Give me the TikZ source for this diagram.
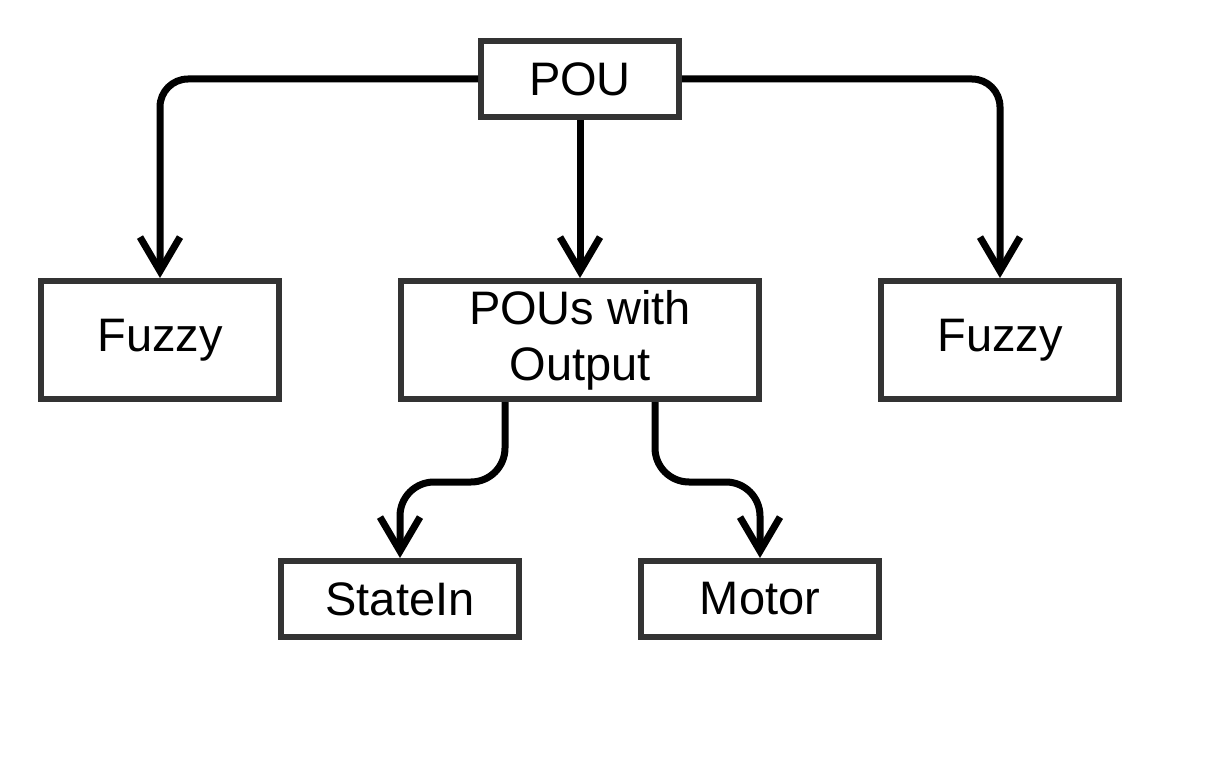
\documentclass[tikz,border=0pt]{standalone}
\usepackage{fontspec}
\setmainfont{Liberation Sans}
\usetikzlibrary{arrows.meta}
\definecolor{boxgray}{HTML}{333333}
\tikzset{
  box/.style={draw=boxgray, line width=6pt, fill=white, inner sep=0pt,
    font=\fontsize{47}{56}\selectfont, align=center, text=black},
  conn/.style={draw=black, line width=7pt, rounded corners=28pt,
    -{Straight Barb[length=34pt, width=40pt, line width=7pt]}}
}
\begin{document}
\begin{tikzpicture}[x=1pt, y=-1pt]
\useasboundingbox (0,0) rectangle (1224,760);
\node[box, minimum width=198pt, minimum height=76pt] (pou) at (580,79) {POU};
\node[box, minimum width=238pt, minimum height=118pt] (fl) at (160,340) {Fuzzy};
\node[box, minimum width=358pt, minimum height=118pt] (po) at (580,340) {POUs with\\Output};
\node[box, minimum width=238pt, minimum height=118pt] (fr) at (1000,340) {Fuzzy};
\node[box, minimum width=238pt, minimum height=76pt] (si) at (400,599) {StateIn};
\node[box, minimum width=238pt, minimum height=76pt] (mo) at (760,599) {Motor};
\coordinate (s1) at (505,402);
\coordinate (s2) at (655,402);
\coordinate (m1) at (400,482);
\coordinate (m2) at (760,482);
\draw[conn] (pou.west) -| (fl.north);
\draw[conn] (pou.east) -| (fr.north);
\draw[conn] (pou.south) -- (po.north);
\draw[conn, rounded corners=34pt] (s1) |- (m1) -- (si.north);
\draw[conn, rounded corners=34pt] (s2) |- (m2) -- (mo.north);
\end{tikzpicture}
\end{document}
